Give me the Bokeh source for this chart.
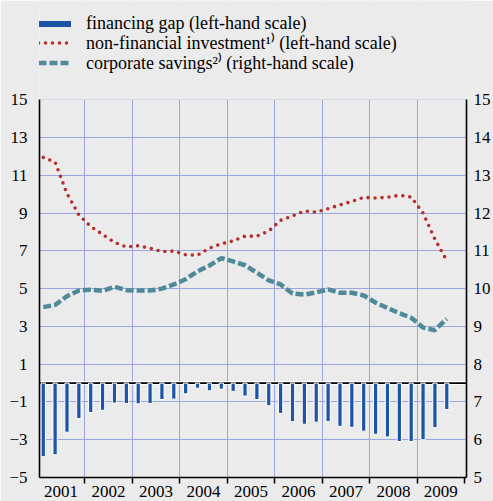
from bokeh.plotting import figure
from bokeh.models import Range1d, LinearAxis, FixedTicker, Legend, LegendItem, Span, BoxAnnotation
from bokeh.embed import file_html
from bokeh.resources import INLINE

# ---- data (quarterly, 2001Q1 .. 2009Q3) ----
years = [2001, 2002, 2003, 2004, 2005, 2006, 2007, 2008, 2009]
year_labels = ["2001", "2002", "2003", "2004", "2005", "2006", "2007", "2008", "2009"]
quarters_in_last_year = 3

financing_gap = [-3.9, -3.8, -2.6, -1.88, -1.56, -1.44, -1.06, -1.08,
                 -1.1, -1.08, -0.87, -0.85, -0.57, -0.27, -0.41, -0.32,
                 -0.44, -0.69, -0.87, -1.2, -1.61, -2.04, -2.18, -2.07,
                 -2.04, -2.29, -2.34, -2.55, -2.71, -2.85, -3.1, -3.1,
                 -3.0, -2.36, -1.4]

non_financial_investment = [11.95, 11.7, 10.03, 8.91, 8.29, 7.87, 7.45, 7.21,
                            7.27, 7.14, 6.96, 6.99, 6.79, 6.77, 7.15, 7.37,
                            7.53, 7.78, 7.78, 8.05, 8.62, 8.85, 9.11, 9.05,
                            9.24, 9.43, 9.62, 9.83, 9.8, 9.84, 9.94, 9.85,
                            9.0, 7.62, 6.48]

corporate_savings = [9.51, 9.57, 9.8, 9.95, 9.97, 9.94, 10.05, 9.96,
                     9.95, 9.95, 10.0, 10.11, 10.25, 10.46, 10.61, 10.81,
                     10.72, 10.62, 10.42, 10.22, 10.11, 9.87, 9.84, 9.9,
                     9.98, 9.89, 9.89, 9.82, 9.63, 9.49, 9.35, 9.23,
                     8.97, 8.9, 9.2]

series_labels = ["financing gap (left-hand scale)",
                 "non-financial investment\u00b9\u207e (left-hand scale)",
                 "corporate savings\u00b2\u207e (right-hand scale)"]

left_ticks = [-5, -3, -1, 1, 3, 5, 7, 9, 11, 13, 15]
right_ticks = [5, 6, 7, 8, 9, 10, 11, 12, 13, 14, 15]
left_min, left_max = -5, 15
right_min, right_max = 5, 15

# quarter centres as decimal years
xq = []
for y in years:
    nq = 4 if y != years[-1] else quarters_in_last_year
    for q in range(nq):
        xq.append(y + (q + 0.5) / 4.0)

BG = "#ebebeb"
GRID = "#9ba6e0"
BLUE = "#1d55a6"
RED = "#b3302b"
TEAL = "#4e8a9a"
FONT = "Liberation Serif"

W, H = 493, 501
TOP_SPACE = 99.3      # pixels reserved above the 15 line for the legend
BOTTOM_BORDER = 24
frame_h = H - BOTTOM_BORDER
ppu = (frame_h - TOP_SPACE) / (left_max - left_min)
left_top = left_max + TOP_SPACE / ppu
right_top = right_min + (left_top - left_min) * (right_max - right_min) / (left_max - left_min)

p = figure(width=W, height=H, output_backend="svg", toolbar_location=None,
           x_range=Range1d(2001.046, 2010.04), y_range=Range1d(left_min, left_top),
           min_border_left=39, min_border_right=27, min_border_top=0,
           min_border_bottom=BOTTOM_BORDER,
           background_fill_color=BG, border_fill_color=BG,
           outline_line_color=None)
p.extra_y_ranges = {"right": Range1d(right_min, right_top)}

# grids
p.ygrid.ticker = FixedTicker(ticks=left_ticks)
p.ygrid.grid_line_color = GRID
p.ygrid.grid_line_width = 1
p.xgrid.ticker = FixedTicker(ticks=[y + 1 for y in years[:-1]])
p.xgrid.grid_line_color = GRID
p.xgrid.grid_line_width = 1

# zero line
p.add_layout(Span(location=0, dimension="width", line_color="white",
                  line_width=4, level="underlay"))
p.add_layout(Span(location=0, dimension="width", line_color="black",
                  line_width=1.6, level="underlay"))
# blank area above the plotting region (legend area)
p.add_layout(BoxAnnotation(bottom=left_max, fill_color=BG, fill_alpha=1,
                           line_alpha=0, level="underlay"))

# x axis: labels centred on years, minor ticks at year boundaries
xa = p.xaxis[0]
centres = [y + 0.5 for y in years]
xa.ticker = FixedTicker(ticks=centres, minor_ticks=years + [years[-1] + 1])
xa.major_label_overrides = {c: lab for c, lab in zip(centres, year_labels)}
xa.major_tick_out = 0
xa.major_tick_in = 0
xa.minor_tick_out = 6
xa.minor_tick_in = 0
xa.minor_tick_line_color = "black"
xa.minor_tick_line_width = 1.5
xa.axis_line_width = 1.6
xa.axis_line_color = "black"
xa.major_label_standoff = 2
xa.major_label_text_font = FONT
xa.major_label_text_font_size = "17px"
xa.major_label_text_color = "black"

ya = p.yaxis[0]
ya.ticker = FixedTicker(ticks=left_ticks)
ya.bounds = (left_min, left_max)
ya.major_tick_out = 0
ya.major_tick_in = 0
ya.minor_tick_out = 0
ya.minor_tick_in = 0
ya.axis_line_width = 1.6
ya.axis_line_color = "black"
ya.major_label_standoff = 12
ya.major_label_text_font = FONT
ya.major_label_text_font_size = "17px"
ya.major_label_text_color = "black"

ra = LinearAxis(y_range_name="right", ticker=FixedTicker(ticks=right_ticks),
                bounds=(right_min, right_max))
ra.major_tick_out = 0
ra.major_tick_in = 0
ra.minor_tick_out = 0
ra.minor_tick_in = 0
ra.axis_line_width = 1.6
ra.axis_line_color = "black"
ra.major_label_standoff = 7
ra.major_label_text_font = FONT
ra.major_label_text_font_size = "17px"
ra.major_label_text_color = "black"
p.add_layout(ra, "right")

# glyphs
bars = p.vbar(x=xq, top=financing_gap, bottom=0, width=0.09,
              fill_color=BLUE, line_color="white", line_width=1)
inv = p.line(xq, non_financial_investment, line_color=RED, line_width=3.6,
             line_dash="0 7", line_cap="round")
sav = p.line(xq, corporate_savings, y_range_name="right", line_color=TEAL,
             line_width=4.5, line_dash="8 3")

# legend key for the bars: a thick blue stroke (hidden renderer)
gap_key = p.line(xq, financing_gap, line_color=BLUE, line_width=6, visible=False)

# one legend per row so that rows sit close together, as in the original
row_bottoms = [443, 423, 403]
for lab, rend, yb in zip(series_labels, [gap_key, inv, sav], row_bottoms):
    lg = Legend(items=[LegendItem(label=lab, renderers=[rend])],
                location=(-1, yb), orientation="vertical",
                padding=0, spacing=0, margin=0,
                glyph_width=33, glyph_height=21, label_height=21, label_standoff=15,
                label_text_font=FONT, label_text_font_size="18px",
                label_text_color="black",
                background_fill_alpha=0, border_line_alpha=0)
    p.add_layout(lg)

html = file_html(p, INLINE)
html = html.replace("<body>", '<body style="background-color:#ebebeb;">', 1)
open("out.html", "w").write(html)
